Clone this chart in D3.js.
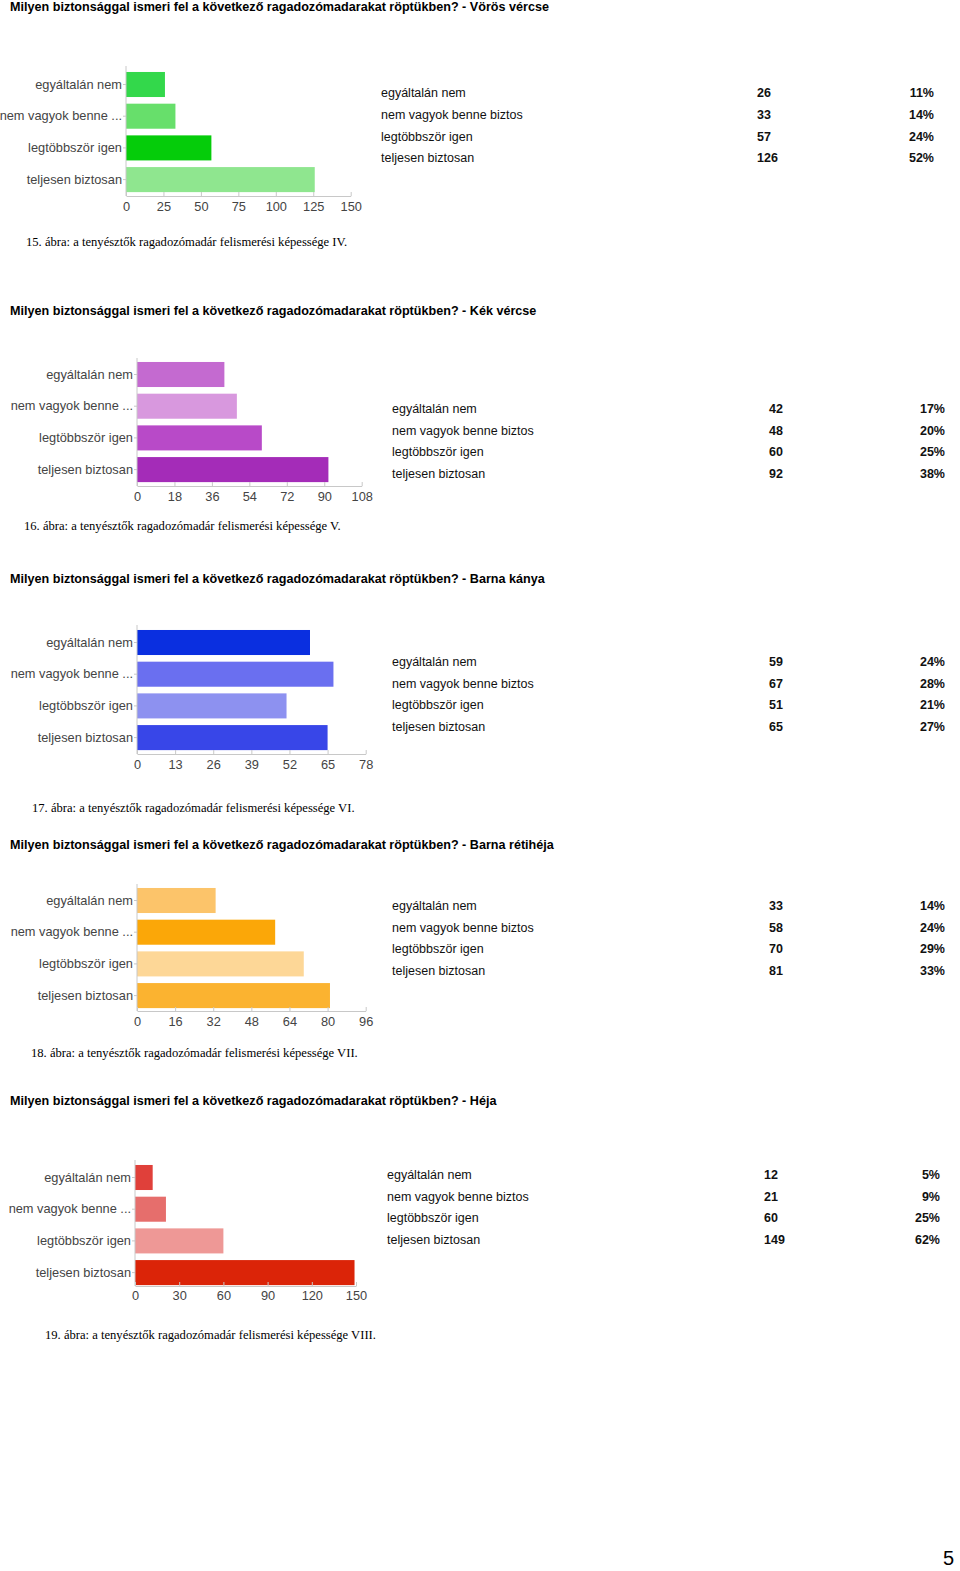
<!DOCTYPE html>
<html><head><meta charset="utf-8">
<script src="https://cdn.jsdelivr.net/npm/d3@7"></script>
<style>
body{margin:0;background:#fff;}
svg{display:block;}
</style></head>
<body>
<svg id="c" width="960" height="1571"></svg>
<script>
// ---------- DATA ----------
const axisCategories = ["egyáltalán nem","nem vagyok benne ...","legtöbbször igen","teljesen biztosan"];
const tableCategories = ["egyáltalán nem","nem vagyok benne biztos","legtöbbször igen","teljesen biztosan"];

const titles = [
  "Milyen biztonsággal ismeri fel a következő ragadozómadarakat röptükben? - Vörös vércse",
  "Milyen biztonsággal ismeri fel a következő ragadozómadarakat röptükben? - Kék vércse",
  "Milyen biztonsággal ismeri fel a következő ragadozómadarakat röptükben? - Barna kánya",
  "Milyen biztonsággal ismeri fel a következő ragadozómadarakat röptükben? - Barna rétihéja",
  "Milyen biztonsággal ismeri fel a következő ragadozómadarakat röptükben? - Héja"
];
const captions = [
  "15. ábra: a tenyésztők ragadozómadár felismerési képessége IV.",
  "16. ábra: a tenyésztők ragadozómadár felismerési képessége V.",
  "17. ábra: a tenyésztők ragadozómadár felismerési képessége VI.",
  "18. ábra: a tenyésztők ragadozómadár felismerési képessége VII.",
  "19. ábra: a tenyésztők ragadozómadár felismerési képessége VIII."
];

const valuesVorosVercse  = [26, 33, 57, 126];
const valuesKekVercse    = [42, 48, 60, 92];
const valuesBarnaKanya   = [59, 67, 51, 65];
const valuesBarnaRetiheja= [33, 58, 70, 81];
const valuesHeja         = [12, 21, 60, 149];

const percentVorosVercse  = ["11%","14%","24%","52%"];
const percentKekVercse    = ["17%","20%","25%","38%"];
const percentBarnaKanya   = ["24%","28%","21%","27%"];
const percentBarnaRetiheja= ["14%","24%","29%","33%"];
const percentHeja         = ["5%","9%","25%","62%"];

const ticksVorosVercse  = [0,25,50,75,100,125,150];
const ticksKekVercse    = [0,18,36,54,72,90,108];
const ticksBarnaKanya   = [0,13,26,39,52,65,78];
const ticksBarnaRetiheja= [0,16,32,48,64,80,96];
const ticksHeja         = [0,30,60,90,120,150];

const pageNumber = "5";

// ---------- STYLE / LAYOUT ----------
const colorsVorosVercse  = ["#33d84b","#67df6b","#05cc0a","#8fe68f"];
const colorsKekVercse    = ["#c46ad0","#d898de","#b84ac8","#a42cb8"];
const colorsBarnaKanya   = ["#0a2fe0","#6a6ff0","#8d91f0","#3846e8"];
const colorsBarnaRetiheja= ["#fcc46a","#fba708","#fdd797","#fbb330"];
const colorsHeja         = ["#e0403a","#e66e6c","#ee9896","#db2408"];

const charts = [
  {title:titles[0], cap:captions[0], vals:valuesVorosVercse, pct:percentVorosVercse, ticks:ticksVorosVercse, colors:colorsVorosVercse,
   titleY:7, x0:126, x1:350.7, top:72, base:196, vtop:66, tickY:208, tx:381, nx:757, px:934, ty:93, capX:26, capY:242},
  {title:titles[1], cap:captions[1], vals:valuesKekVercse, pct:percentKekVercse, ticks:ticksKekVercse, colors:colorsKekVercse,
   titleY:311, x0:137, x1:361.7, top:362, base:486, vtop:358, tickY:498, tx:392, nx:769, px:945, ty:408.5, capX:24, capY:526},
  {title:titles[2], cap:captions[2], vals:valuesBarnaKanya, pct:percentBarnaKanya, ticks:ticksBarnaKanya, colors:colorsBarnaKanya,
   titleY:579, x0:137, x1:365.7, top:630, base:754, vtop:625, tickY:766, tx:392, nx:769, px:945, ty:661.5, capX:32, capY:808},
  {title:titles[3], cap:captions[3], vals:valuesBarnaRetiheja, pct:percentBarnaRetiheja, ticks:ticksBarnaRetiheja, colors:colorsBarnaRetiheja,
   titleY:845, x0:137, x1:365.7, top:888, base:1011, vtop:884, tickY:1023, tx:392, nx:769, px:945, ty:905.5, capX:31, capY:1053},
  {title:titles[4], cap:captions[4], vals:valuesHeja, pct:percentHeja, ticks:ticksHeja, colors:colorsHeja,
   titleY:1101, x0:135, x1:356, top:1165, base:1286, vtop:1160, tickY:1297, tx:387, nx:764, px:940, ty:1174.5, capX:45, capY:1335}
];

const svg = d3.select("#c");
const sans = "'Liberation Sans', Arial, sans-serif";
const serif = "'Liberation Serif', 'Times New Roman', serif";
const step = 31.7;

charts.forEach(c => {
  const g = svg.append("g");
  // title
  g.append("text").attr("x",10).attr("y",c.titleY).attr("dy","0.35em")
    .attr("font-family",sans).attr("font-weight","bold").attr("font-size","12.6px")
    .attr("fill","#000").text(c.title);

  const x = d3.scaleLinear().domain([c.ticks[0], c.ticks[c.ticks.length-1]]).range([c.x0, c.x1]);
  const y = d3.scaleBand().domain(axisCategories)
    .range([c.top - 3.35, c.top - 3.35 + 4*step]).paddingInner(0.21).paddingOuter(0.105);

  // bars
  g.selectAll("rect.bar").data(c.vals).enter().append("rect")
    .attr("x", x(0)).attr("y",(d,i)=>y(axisCategories[i]))
    .attr("width", d=>x(d)-x(0)).attr("height", y.bandwidth())
    .attr("fill",(d,i)=>c.colors[i]);

  // bottom axis
  const xa = g.append("g").attr("transform",`translate(0,${c.base})`)
    .call(d3.axisBottom(x).tickValues(c.ticks).tickSizeInner(-4).tickSizeOuter(0).tickPadding(8));
  xa.select(".domain").attr("stroke","#c8c8c8");
  xa.selectAll(".tick line").attr("stroke","#c8c8c8");
  xa.selectAll(".tick text").attr("font-family",sans).attr("font-size","12.8px").attr("fill","#444")
    .attr("y", null).attr("dy", null)
    .attr("transform",`translate(0,${c.tickY - c.base})`).attr("dominant-baseline","middle");

  // left axis
  const ya = g.append("g").attr("transform",`translate(${c.x0},0)`)
    .call(d3.axisLeft(y).tickSizeInner(3).tickSizeOuter(0).tickPadding(1));
  ya.select(".domain").attr("d",`M0,${c.vtop}V${c.base}`).attr("stroke","#c8c8c8");
  ya.selectAll(".tick line").attr("stroke","#c8c8c8");
  ya.selectAll(".tick text").attr("font-family",sans).attr("font-size","12.8px").attr("fill","#444");

  // table
  const rowStep = 21.7;
  const rows = g.selectAll("g.row").data(c.vals).enter().append("g")
    .attr("transform",(d,i)=>`translate(0,${c.ty + i*rowStep})`);
  rows.append("text").attr("x",c.tx).attr("dy","0.35em")
    .attr("font-family",sans).attr("font-size","12.5px").attr("fill","#111")
    .text((d,i)=>tableCategories[i]);
  rows.append("text").attr("x",c.nx).attr("dy","0.35em")
    .attr("font-family",sans).attr("font-size","12.5px").attr("font-weight","bold").attr("fill","#111")
    .text(d=>d);
  rows.append("text").attr("x",c.px).attr("dy","0.35em").attr("text-anchor","end")
    .attr("font-family",sans).attr("font-size","12.5px").attr("font-weight","bold").attr("fill","#111")
    .text((d,i)=>c.pct[i]);

  // caption
  g.append("text").attr("x",c.capX).attr("y",c.capY).attr("dy","0.35em")
    .attr("font-family",serif).attr("font-size","12.6px").attr("fill","#000").text(c.cap);
});

svg.append("text").attr("x",943).attr("y",1565).attr("font-family",sans)
  .attr("font-size","20px").attr("fill","#000").text(pageNumber);
</script>
</body></html>
